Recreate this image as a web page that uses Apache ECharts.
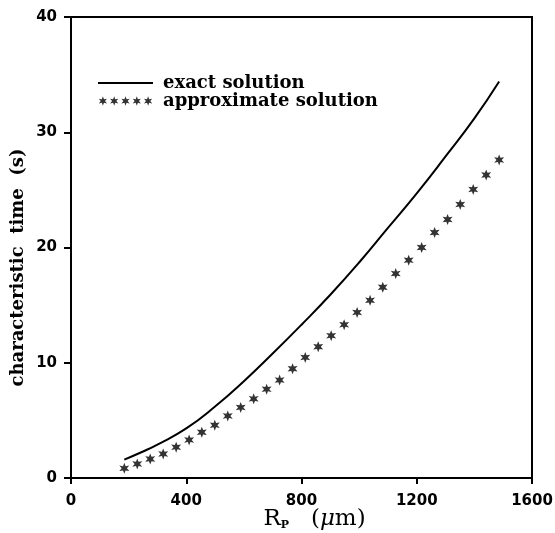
<!DOCTYPE html>
<html>
<head>
<meta charset="utf-8">
<script src="https://cdn.jsdelivr.net/npm/echarts@6/dist/echarts.min.js"></script>
<style>
html,body{margin:0;padding:0;background:#fff;}
#chart{width:555px;height:533px;}
</style>
</head>
<body>
<div id="chart"></div>
<script>
// Exact solution (line)
var exactX = [185, 250, 300, 400, 500, 600, 700, 800, 900, 1000, 1100, 1200, 1300, 1400, 1486];
var exactY = [1.6, 2.3, 2.9, 4.3, 6.2, 8.4, 10.8, 13.3, 15.9, 18.7, 21.7, 24.7, 27.9, 31.2, 34.4];
// Approximate solution (stars)
var approxX = [185, 230, 275, 320, 365, 410, 454, 499, 544, 589, 634, 679, 724, 769, 813, 858, 903, 948, 993, 1038, 1082, 1127, 1172, 1217, 1262, 1307, 1351, 1396, 1441, 1486];
var approxY = [0.84, 1.22, 1.65, 2.09, 2.67, 3.30, 3.97, 4.58, 5.39, 6.12, 6.87, 7.71, 8.50, 9.48, 10.46, 11.39, 12.35, 13.30, 14.37, 15.42, 16.55, 17.74, 18.90, 20.00, 21.30, 22.43, 23.74, 25.04, 26.29, 27.60];
var xTicks = [0, 400, 800, 1200, 1600];
var yTicks = [0, 10, 20, 30, 40];
var seriesNames = ['exact solution', 'approximate solution'];

function starSub(o) {
  return 'M' + (100 + o) + ' 0 L' + (122.5 + o) + ' 61 L' + (186.6 + o) + ' 50 L' + (145 + o) + ' 100 L' + (186.6 + o) + ' 150 L' + (122.5 + o) + ' 139 L' + (100 + o) + ' 200 L' + (77.5 + o) + ' 139 L' + (13.4 + o) + ' 150 L' + (55 + o) + ' 100 L' + (13.4 + o) + ' 50 L' + (77.5 + o) + ' 61 Z ';
}
var starPath = 'path://' + starSub(0);
function starsRow(n, step) {
  var d = '';
  for (var i = 0; i < n; i++) d += starSub(i * step);
  return 'path://' + d;
}
// thin horizontal rule inside a 1200x200 box (tiny corner specks keep the box)
var rulePath = 'path://M0 0 L0.1 0 L0 0.1 Z M0 80 L1200 80 L1200 120 L0 120 Z M1200 200 L1199.9 200 L1200 199.9 Z';

function zip(a, b) { return a.map(function (v, i) { return [v, b[i]]; }); }

var chart = echarts.init(document.getElementById('chart'));
var tickFont = { fontFamily: 'DejaVu Sans', fontWeight: 'bold', fontSize: 15, color: '#000', formatter: function (v) { return String(v); } };
chart.setOption({
  animation: false,
  backgroundColor: '#fff',
  grid: { left: 71, right: 23, top: 17, bottom: 55, show: true, borderColor: '#000', borderWidth: 2, backgroundColor: 'transparent', outerBoundsMode: 'none', containLabel: false },
  legend: {
    orient: 'vertical',
    left: 93,
    top: 69,
    itemWidth: 55,
    itemHeight: 9.5,
    itemGap: 0,
    textStyle: { fontFamily: 'DejaVu Serif', fontWeight: 'bold', fontSize: 18, lineHeight: 17, color: '#000', padding: [0, 0, 0, 5] },
    data: [
      { name: seriesNames[0], icon: rulePath },
      { name: seriesNames[1], icon: starsRow(5, 238) }
    ]
  },
  xAxis: {
    type: 'value', min: xTicks[0], max: xTicks[xTicks.length - 1], interval: 400,
    name: '{r|R}{s|P}{n|   (}{i|μ}{n|m)}',
    nameLocation: 'middle', nameGap: 30, nameMoveOverlap: false,
    nameTextStyle: {
      padding: [0, 0, 0, 26],
      rich: {
        r: { fontFamily: 'DejaVu Serif', fontSize: 23, color: '#000' },
        s: { fontFamily: 'DejaVu Serif', fontSize: 11, fontWeight: 'bold', color: '#000', verticalAlign: 'bottom', padding: [9, 0, 0, 0] },
        n: { fontFamily: 'DejaVu Serif', fontSize: 23, color: '#000' },
        i: { fontFamily: 'DejaVu Serif', fontStyle: 'italic', fontSize: 23, color: '#000' }
      }
    },
    axisLine: { show: true, onZero: false, lineStyle: { color: '#000', width: 2 } },
    axisTick: { show: true, inside: false, length: 6, lineStyle: { color: '#000', width: 2 } },
    axisLabel: Object.assign({ margin: 16 }, tickFont),
    splitLine: { show: false }
  },
  yAxis: {
    type: 'value', min: yTicks[0], max: yTicks[yTicks.length - 1], interval: 10,
    name: 'characteristic  time  (s)',
    nameLocation: 'middle', nameGap: 44, nameMoveOverlap: false,
    nameTextStyle: { fontFamily: 'DejaVu Serif', fontWeight: 'bold', fontSize: 18, color: '#000', padding: [0, 40, 0, 0] },
    axisLine: { show: true, lineStyle: { color: '#000', width: 2 } },
    axisTick: { show: true, inside: false, length: 7, lineStyle: { color: '#000', width: 2 } },
    axisLabel: Object.assign({ margin: 14 }, tickFont),
    splitLine: { show: false }
  },
  series: [
    {
      name: seriesNames[0], type: 'line', smooth: true, symbol: 'none',
      lineStyle: { color: '#000', width: 2 }, itemStyle: { color: '#000' },
      data: zip(exactX, exactY)
    },
    {
      name: seriesNames[1], type: 'scatter', symbol: starPath, symbolSize: [10, 11],
      itemStyle: { color: '#000' },
      data: zip(approxX, approxY)
    }
  ]
});
</script>
</body>
</html>
